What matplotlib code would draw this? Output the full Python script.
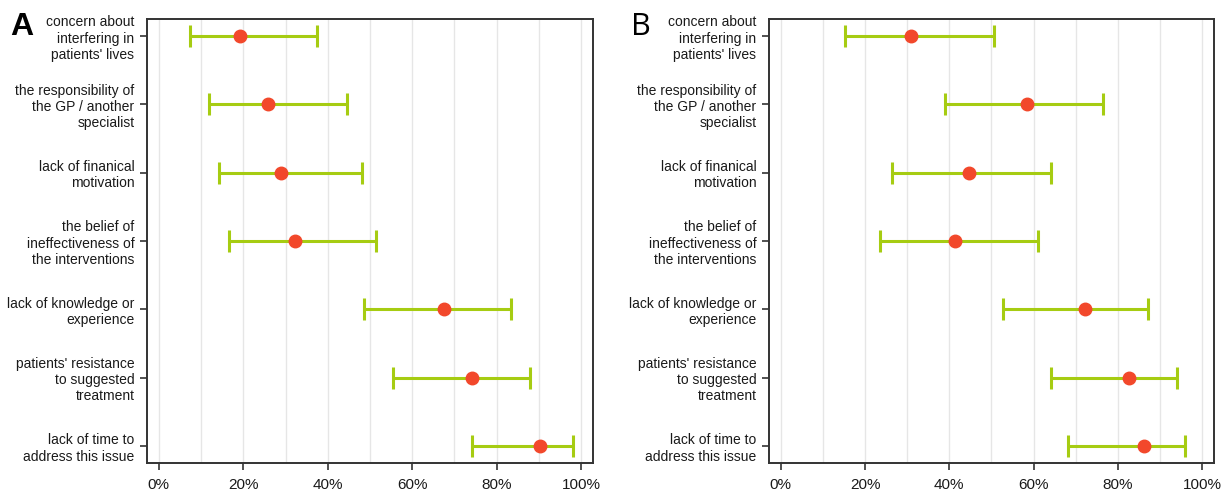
import matplotlib.pyplot as plt
from matplotlib.ticker import MultipleLocator, FuncFormatter

# barriers, listed top to bottom
barriers = [
    "concern about\ninterfering in\npatients' lives",
    "the responsibility of\nthe GP / another\nspecialist",
    "lack of finanical\nmotivation",
    "the belief of\nineffectiveness of\nthe interventions",
    "lack of knowledge or\nexperience",
    "patients' resistance\nto suggested\ntreatment",
    "lack of time to\naddress this issue",
]

# panel A: estimate with lower / upper interval bounds (%)
a_est = [19.2, 25.8, 28.9, 32.2, 67.6, 74.1, 90.2]
a_low = [7.4, 11.8, 14.2, 16.7, 48.5, 55.4, 74.2]
a_high = [37.5, 44.6, 48.0, 51.4, 83.3, 88.0, 98.1]

# panel B
b_est = [31.0, 58.5, 44.7, 41.4, 72.3, 82.7, 86.1]
b_low = [15.3, 39.0, 26.4, 23.5, 52.7, 64.1, 68.2]
b_high = [50.7, 76.4, 64.2, 61.0, 87.1, 94.0, 96.0]

GREEN = "#a6cc12"
RED = "#f2482b"
label_font = ["Liberation Sans", "DejaVu Sans"]

fig = plt.figure(figsize=(12.28, 4.90), dpi=100)
ax_a = fig.add_axes([0.1197, 0.0551, 0.3632, 0.9061])
ax_b = fig.add_axes([0.6262, 0.0551, 0.3624, 0.9061])


def draw_panel(ax, est, low, high, letter, letter_x, letter_kw):
    ypos = list(range(1, len(est) + 1))
    xerr = [[e - l for e, l in zip(est, low)], [h - e for e, h in zip(est, high)]]
    ax.errorbar(est, ypos, xerr=xerr, fmt="none", ecolor=GREEN,
                elinewidth=2.2, capsize=8, capthick=2.2, zorder=2)
    ax.plot(est, ypos, "o", color=RED, markersize=9, zorder=3)

    ax.set_xlim(-2.8, 102.8)
    ax.set_ylim(7.25, 0.75)
    ax.xaxis.set_major_locator(MultipleLocator(20))
    ax.xaxis.set_minor_locator(MultipleLocator(10))
    ax.xaxis.set_major_formatter(FuncFormatter(lambda v, _: f"{v:.0f}%"))
    ax.grid(axis="x", which="both", color="#e6e6e6", linewidth=1, zorder=0)
    ax.set_axisbelow(True)

    ax.set_yticks(ypos)
    ax.set_yticklabels(barriers, family=label_font, fontsize=10,
                       color="#1a1a1a", linespacing=1.2)
    ax.tick_params(axis="x", which="minor", length=0)
    ax.tick_params(axis="x", which="major", length=5, width=1.2,
                   color="#333333", labelsize=11, labelcolor="#1a1a1a", pad=6)
    ax.tick_params(axis="y", length=5, width=1.2, color="#333333", pad=4)
    for lbl in ax.get_xticklabels():
        lbl.set_family(label_font)
    for sp in ax.spines.values():
        sp.set_color("#333333")
        sp.set_linewidth(1.4)

    fig.text(letter_x, 0.975, letter, ha="left", va="top", **letter_kw)


draw_panel(ax_a, a_est, a_low, a_high, "A", 0.008,
           dict(fontsize=23, fontweight="bold", family="Liberation Sans"))
draw_panel(ax_b, b_est, b_low, b_high, "B", 0.514,
           dict(fontsize=22, family="Open Sans"))

fig.savefig("out.png", dpi=100, facecolor="white")
